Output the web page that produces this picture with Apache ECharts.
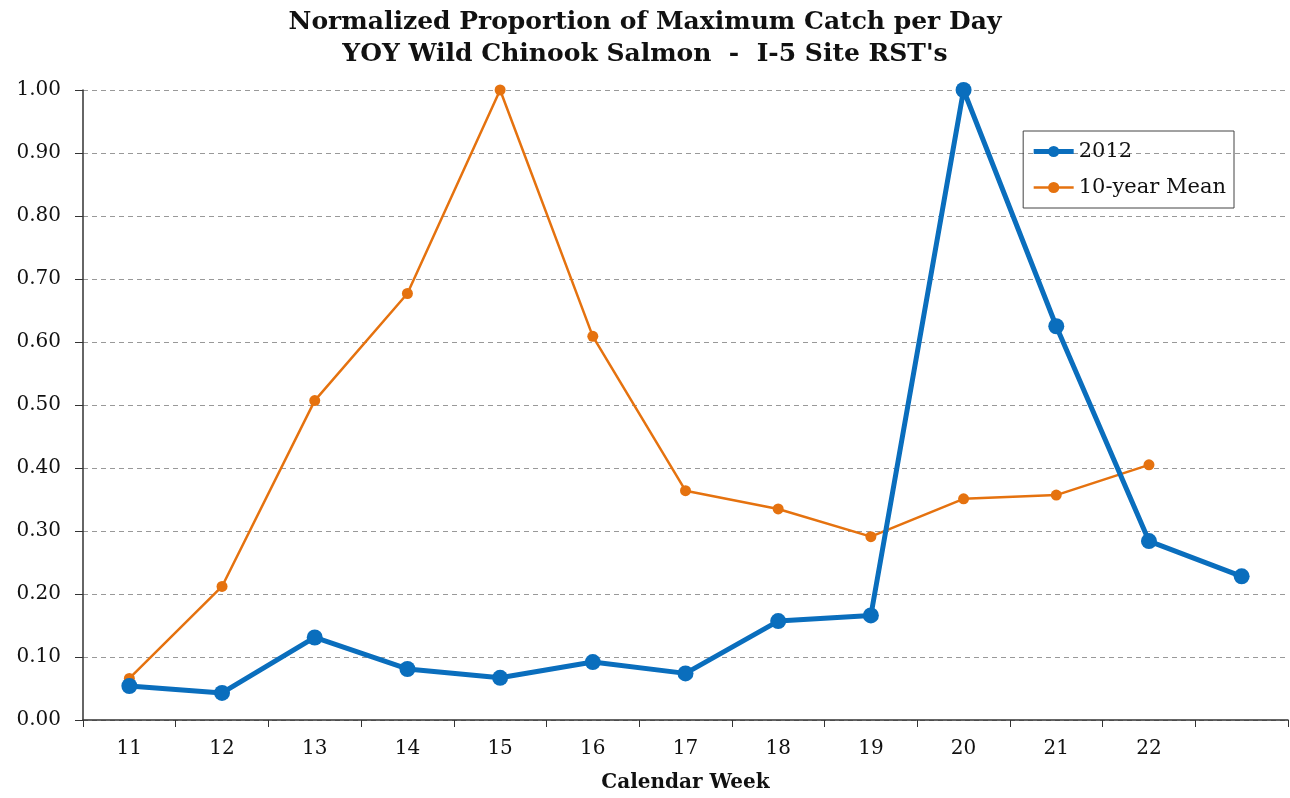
<!DOCTYPE html>
<html><head><meta charset="utf-8">
<script src="https://cdn.jsdelivr.net/npm/echarts@6/dist/echarts.min.js"></script>
<style>html,body{margin:0;padding:0;background:#fff}#c{width:1290px;height:798px}</style>
</head><body><div id="c"></div>
<script>
const categories = ['11','12','13','14','15','16','17','18','19','20','21','22',''];
const series2012 = [0.054,0.043,0.131,0.081,0.067,0.092,0.074,0.157,0.166,1.00,0.625,0.284,0.228];
const seriesMean = [0.066,0.212,0.507,0.677,1.00,0.609,0.364,0.335,0.291,0.351,0.357,0.405,null];
const FONT = '"DejaVu Serif","Liberation Serif",serif';
const BLUE = '#0A6EBD', ORANGE = '#E5720F';
const chart = echarts.init(document.getElementById('c'));
chart.setOption({
  backgroundColor:'#fff',
  animation:false,
  title:{text:"Normalized Proportion of Maximum Catch per Day\nYOY Wild Chinook Salmon  -  I-5 Site RST's",left:'center',top:1,
    textStyle:{fontFamily:FONT,fontWeight:'bold',fontSize:25,lineHeight:32,color:'#111'}},
  legend:{right:56,top:131,orient:'vertical',itemWidth:40,itemHeight:14,itemGap:15,padding:[10,8,10,8],
    borderColor:'#444',borderWidth:1,borderRadius:0,
    textStyle:{fontFamily:FONT,fontSize:21,color:'#111'},
    data:[
      {name:'2012',lineStyle:{width:5,color:BLUE},itemStyle:{color:BLUE}},
      {name:'10-year Mean',lineStyle:{width:2.5,color:ORANGE},itemStyle:{color:ORANGE}}
    ]},
  grid:{left:83,right:2,top:90,bottom:75,containLabel:false},
  xAxis:{type:'category',data:categories,boundaryGap:true,
    name:'Calendar Week',nameLocation:'middle',nameGap:53,
    nameTextStyle:{fontFamily:FONT,fontWeight:'bold',fontSize:20,color:'#111'},
    axisLine:{lineStyle:{color:'#333',width:1.5}},
    axisTick:{show:true,alignWithLabel:false,length:7,lineStyle:{color:'#333'}},
    axisLabel:{fontFamily:FONT,fontSize:20,color:'#111',margin:19,interval:0},
    splitLine:{show:false}},
  yAxis:{type:'value',min:0,max:1,interval:0.1,
    axisLine:{show:true,lineStyle:{color:'#333',width:1.5}},
    axisTick:{show:true,length:8,lineStyle:{color:'#333'}},
    axisLabel:{fontFamily:FONT,fontSize:20,color:'#111',margin:22,formatter:v=>v.toFixed(2)},
    splitLine:{show:true,lineStyle:{color:'#999',type:[5,4],width:1}}},
  series:[
    {name:'2012',type:'line',data:series2012,color:BLUE,symbol:'circle',symbolSize:16,
      lineStyle:{width:5,color:BLUE},itemStyle:{color:BLUE},z:3},
    {name:'10-year Mean',type:'line',data:seriesMean,color:ORANGE,symbol:'circle',symbolSize:11,
      lineStyle:{width:2.5,color:ORANGE},itemStyle:{color:ORANGE},z:2,connectNulls:false}
  ]
});
</script></body></html>
